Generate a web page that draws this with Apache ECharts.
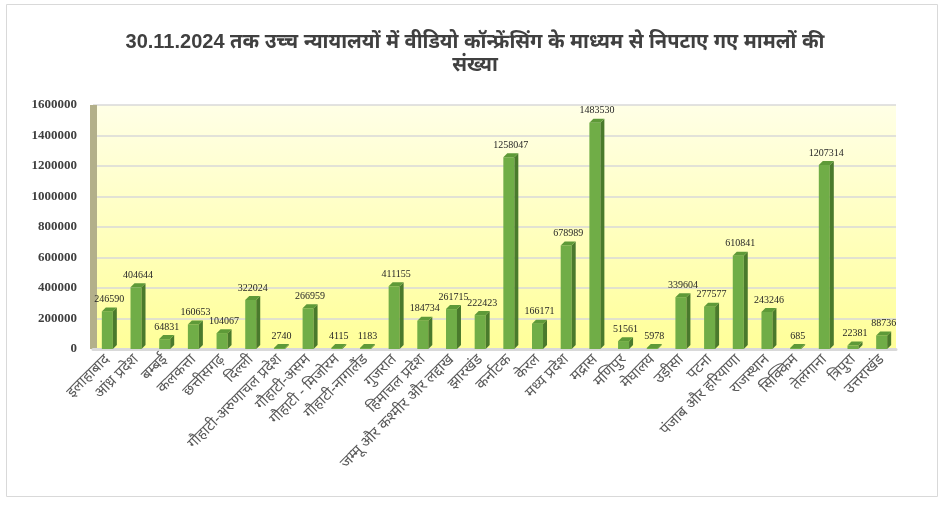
<!DOCTYPE html>
<html><head><meta charset="utf-8">
<script src="https://cdn.jsdelivr.net/npm/echarts@6/dist/echarts.min.js"></script>
<style>html,body{margin:0;padding:0;background:#fff}#c{width:951px;height:508px}</style>
</head><body><div id="c"></div>
<script>
const titleText = '30.11.2024 तक उच्च न्यायालयों में वीडियो कॉन्फ्रेंसिंग के माध्यम से निपटाए गए मामलों की\nसंख्या';
const categories = ['इलाहाबाद','आंध्र प्रदेश','बम्बई','कलकत्ता','छत्तीसगढ़','दिल्ली','गौहाटी-अरुणाचल प्रदेश','गौहाटी-असम','गौहाटी - मिजोरम','गौहाटी-नागालैंड','गुजरात','हिमाचल प्रदेश','जम्मू और कश्मीर और लद्दाख','झारखंड','कर्नाटक','केरल','मध्य प्रदेश','मद्रास','मणिपुर','मेघालय','उड़ीसा','पटना','पंजाब और हरियाणा','राजस्थान','सिक्किम','तेलंगाना','त्रिपुरा','उत्तराखंड'];
const values = [246590,404644,64831,160653,104067,322024,2740,266959,4115,1183,411155,184734,261715,222423,1258047,166171,678989,1483530,51561,5978,339604,277577,610841,243246,685,1207314,22381,88736];
const yTicks = [0,200000,400000,600000,800000,1000000,1200000,1400000,1600000];

const chart = echarts.init(document.getElementById('c'));
const W = 11, D = 4;
chart.setOption({
  animation:false,
  title:{text:titleText,left:470,top:26,textAlign:'center',textStyle:{fontFamily:'Liberation Sans Narrow, Liberation Sans, Noto Sans',fontSize:20,fontWeight:'bold',color:'#404040',lineHeight:23}},
  graphic:[{type:'rect',shape:{x:6.5,y:4.5,width:931,height:492},style:{fill:'none',stroke:'#D9D9D9',lineWidth:1},silent:true}],
  grid:{left:93,right:55,top:105,bottom:159,show:true,borderWidth:0,
    backgroundColor:new echarts.graphic.LinearGradient(0,0,0,1,[{offset:0,color:'#FFFFE6'},{offset:1,color:'#FFFF99'}])},
  xAxis:{type:'category',data:categories,
    axisLine:{show:true,lineStyle:{color:'#D9D9D9',width:3}},axisTick:{show:false},
    axisLabel:{interval:0,rotate:45,margin:8,fontSize:15,color:'#595959',fontFamily:'Noto Sans, sans-serif'}},
  yAxis:{type:'value',min:0,max:1600000,interval:200000,
    axisLine:{show:true,lineStyle:{color:'#B3B08A',width:7,cap:'butt'}},axisTick:{show:false},
    splitLine:{lineStyle:{color:'#D9D9D9',width:1.5}},
    axisLabel:{margin:16,fontSize:13,fontWeight:'bold',color:'#404040',fontFamily:'Liberation Serif, serif',
      formatter:v=>yTicks.includes(v)?String(v):''}},
  series:[{type:'custom',data:values.map((v,i)=>[i,v]),encode:{x:0,y:1},
    renderItem:function(params,api){
      const top=api.coord([api.value(0),api.value(1)]);
      const base=api.coord([api.value(0),0]);
      const x0=top[0]-W/2, x1=top[0]+W/2;
      let yT=Math.min(top[1],base[1]-1);
      const yB=base[1];
      return {type:'group',children:[
        {type:'rect',shape:{x:x0,y:yT,width:W,height:yB-yT},style:{fill:'#70AD47'}},
        {type:'polygon',shape:{points:[[x1,yT],[x1+D,yT-D],[x1+D,yB-D],[x1,yB]]},style:{fill:'#4A7A2C'}},
        {type:'polygon',shape:{points:[[x0,yT],[x0+D,yT-D],[x1+D,yT-D],[x1,yT]]},style:{fill:'#5E9A38'}},
        {type:'text',style:{text:String(api.value(1)),x:top[0]+2,y:yT-D-3,align:'center',verticalAlign:'bottom',fontSize:10,fontFamily:'Liberation Serif, serif',fill:'#262626'}}
      ]};
    }}]
});
</script></body></html>
